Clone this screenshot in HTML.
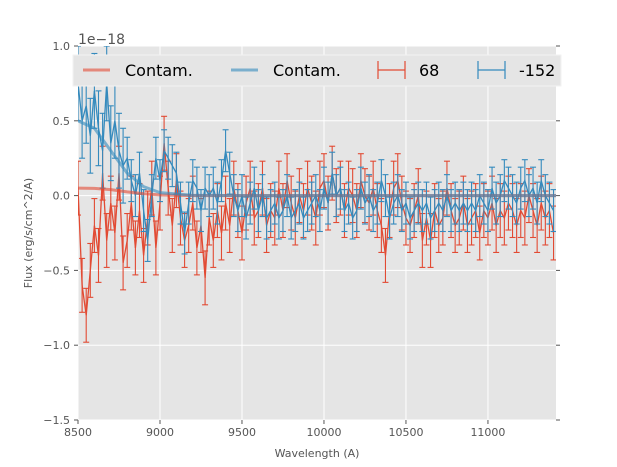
<!DOCTYPE html>
<html><head><meta charset="utf-8"><style>
html,body{margin:0;padding:0;background:#fff;}
svg{display:block;font-family:"DejaVu Sans","Liberation Sans",sans-serif;}
</style></head><body>
<svg id="chart" width="617" height="467" viewBox="0 0 617 467">
<defs><clipPath id="plotclip"><rect x="78" y="46" width="478" height="374"/></clipPath></defs>
<rect x="78" y="46" width="478" height="374" fill="#e5e5e5"/>
<g id="grid"></g>
<g id="axes"></g>
<g id="series" clip-path="url(#plotclip)"></g>
<text x="78" y="44" font-size="14" fill="#555">1e−18</text>
<text x="317" y="457" font-size="11" fill="#555" text-anchor="middle">Wavelength (A)</text>
<text x="0" y="0" font-size="11" fill="#555" text-anchor="middle" transform="translate(32,233) rotate(-90)">Flux (erg/s/cm^2/A)</text>
<g>
<rect x="73" y="55" width="488" height="31" fill="#e5e5e5" stroke="#f2f2f2" stroke-width="1"/>
<g>
<line x1="83" y1="70" x2="110" y2="70" stroke="#E24A33" stroke-opacity="0.6" stroke-width="3"/>
<text x="125" y="76" font-size="16" fill="#000">Contam.</text></g>
<g>
<line x1="231" y1="70" x2="258" y2="70" stroke="#348ABD" stroke-opacity="0.6" stroke-width="3"/>
<text x="273" y="76" font-size="16" fill="#000">Contam.</text></g>
<g stroke="#E24A33" stroke-width="1.2">
<line x1="378" y1="70" x2="405" y2="70"/><line x1="378" y1="61" x2="378" y2="79"/><line x1="405" y1="61" x2="405" y2="79"/>
<text x="419" y="76" font-size="16" fill="#000" stroke="none">68</text></g>
<g stroke="#348ABD" stroke-width="1.2">
<line x1="478" y1="70" x2="505" y2="70"/><line x1="478" y1="61" x2="478" y2="79"/><line x1="505" y1="61" x2="505" y2="79"/>
<text x="519" y="76" font-size="16" fill="#000" stroke="none">-152</text></g>
</g>
</svg>
<script>
const xStart = 8500;
const xStep = 25;
const redValues = [0.05,-0.6,-0.8,-0.5,-0.2,-0.4,0.15,-0.3,-0.05,-0.25,0.15,-0.45,
-0.3,-0.05,-0.35,-0.1,-0.4,-0.15,0.05,-0.35,-0.05,0.35,0.05,-0.2,
0.1,-0.15,-0.3,-0.2,-0.05,-0.35,-0.2,-0.55,-0.15,-0.3,-0.1,-0.25,
-0.05,-0.2,0.05,-0.1,-0.25,-0.05,0.05,-0.15,-0.1,0.05,-0.2,-0.1,
-0.15,0.05,-0.1,0.1,-0.05,-0.15,0.0,-0.1,0.05,-0.05,-0.15,0.05,
0.1,-0.05,0.15,0.0,0.05,-0.1,0.05,0.0,-0.1,0.1,0.0,-0.05,
0.05,-0.1,-0.2,-0.4,-0.1,0.05,0.1,-0.05,-0.15,-0.2,-0.1,0.0,
-0.3,-0.15,-0.3,-0.1,-0.2,-0.15,0.05,-0.1,-0.2,-0.15,-0.05,-0.2,
-0.15,-0.1,-0.25,-0.1,-0.15,-0.05,-0.2,-0.1,-0.15,-0.05,-0.1,-0.2,
-0.1,-0.15,0.0,-0.1,-0.2,-0.05,-0.15,-0.1,-0.25];
const blueValues = [0.75,0.5,0.6,0.4,0.7,0.45,0.3,0.75,0.35,0.5,0.3,0.2,
0.25,0.1,0.0,0.15,-0.1,-0.3,0.0,0.25,0.1,0.3,0.25,0.2,
0.15,-0.05,-0.25,-0.05,0.1,0.05,-0.1,0.05,0.0,0.05,-0.05,0.1,
0.3,0.15,0.0,-0.1,0.0,-0.15,-0.05,0.05,-0.1,0.0,-0.15,-0.1,
-0.05,-0.15,-0.1,0.0,-0.15,-0.1,-0.05,-0.15,-0.1,-0.05,0.0,-0.1,
0.05,-0.05,0.15,0.0,0.05,-0.1,-0.05,-0.15,-0.1,0.05,-0.05,0.0,
-0.1,-0.05,0.1,0.0,-0.15,-0.05,0.0,-0.1,-0.05,-0.15,-0.1,-0.05,
-0.1,-0.05,-0.15,-0.1,-0.05,-0.1,0.0,-0.1,-0.05,-0.1,-0.05,-0.1,
-0.05,-0.1,0.0,-0.05,-0.1,0.05,-0.05,0.0,0.1,0.05,0.0,-0.05,
0.05,0.1,0.0,0.05,-0.05,0.1,0.0,-0.05,-0.1];
const redErr = 0.18;
const blueErr = 0.14;
const blueErrEarly = 0.25;
const contamX = [8500,8600,8700,8800,8900,9000,9200,9500,11500];
const contamRed = [0.05,0.048,0.04,0.025,0.012,0.005,0,0,0];
const contamBlue = [0.5,0.45,0.3,0.15,0.06,0.02,0.003,0,0];
const xTicks = [8500,9000,9500,10000,10500,11000];
const yTicks = [-1.5,-1.0,-0.5,0.0,0.5,1.0];
const yTickLabels = ["−1.5","−1.0","−0.5","0.0","0.5","1.0"];

const X0=78,X1=556,Y0=420,Y1=46,XMIN=8500,XMAX=11415,YMIN=-1.5,YMAX=1.0;
const sx=v=>X0+(v-XMIN)/(XMAX-XMIN)*(X1-X0);
const sy=v=>Y0-(v-YMIN)/(YMAX-YMIN)*(Y0-Y1);
const NS='http://www.w3.org/2000/svg';
function mk(tag,attrs,parent){const e=document.createElementNS(NS,tag);for(const k in attrs)e.setAttribute(k,attrs[k]);parent.appendChild(e);return e;}
const grid=document.getElementById('grid'),axes=document.getElementById('axes'),series=document.getElementById('series');
xTicks.forEach(t=>{
  const l=mk('line',{x1:sx(t),x2:sx(t),y1:Y1,y2:Y0,stroke:'#fff','stroke-width':1},grid);
  
  
  mk('line',{x1:sx(t),x2:sx(t),y1:Y0,y2:Y0+4,stroke:'#555'},axes);
  const tx=mk('text',{x:sx(t),y:Y0+16,'font-size':11,fill:'#555','text-anchor':'middle'},axes);
  tx.textContent=t;
  
  
});
yTicks.forEach((t,i)=>{
  const l=mk('line',{x1:X0,x2:X1,y1:sy(t),y2:sy(t),stroke:'#fff','stroke-width':1},grid);
  
  
  mk('line',{x1:X0-4,x2:X0,y1:sy(t),y2:sy(t),stroke:'#555'},axes);
  mk('line',{x1:X1,x2:X1+4,y1:sy(t),y2:sy(t),stroke:'#555'},axes);
  const tx=mk('text',{x:X0-8,y:sy(t)+4,'font-size':11,fill:'#555','text-anchor':'end'},axes);
  tx.textContent=yTickLabels[i];
  
  
});
function drawErr(vals,errFn,color,name){
  const g=mk('g',{stroke:color,'stroke-width':1.1,fill:'none'},series);
  
  
  let pts=[];
  vals.forEach((v,i)=>{
    const x=sx(xStart+i*xStep),e=errFn(i);
    const yt=sy(v+e),yb=sy(v-e);
    mk('line',{x1:x,x2:x,y1:yt,y2:yb},g);
    mk('line',{x1:x-3,x2:x+3,y1:yt,y2:yt},g);
    mk('line',{x1:x-3,x2:x+3,y1:yb,y2:yb},g);
    pts.push(x.toFixed(1)+','+sy(v).toFixed(1));
  });
  const p=mk('polyline',{points:pts.join(' '),'stroke-width':1.3},g);
  
  
}
function drawContam(vals,color,name){
  const pts=contamX.map((x,i)=>sx(x).toFixed(1)+','+sy(vals[i]).toFixed(1)).join(' ');
  const p=mk('polyline',{points:pts,stroke:color,'stroke-opacity':0.6,'stroke-width':3,fill:'none','stroke-linejoin':'round'},series);
  
  
}
drawErr(redValues,()=>redErr,'#E24A33','series-68');
drawErr(blueValues,i=>i<12?blueErrEarly:blueErr,'#348ABD','series-minus-152');
drawContam(contamRed,'#E24A33','contam-red-line');
drawContam(contamBlue,'#348ABD','contam-blue-line');
</script>
</body></html>
